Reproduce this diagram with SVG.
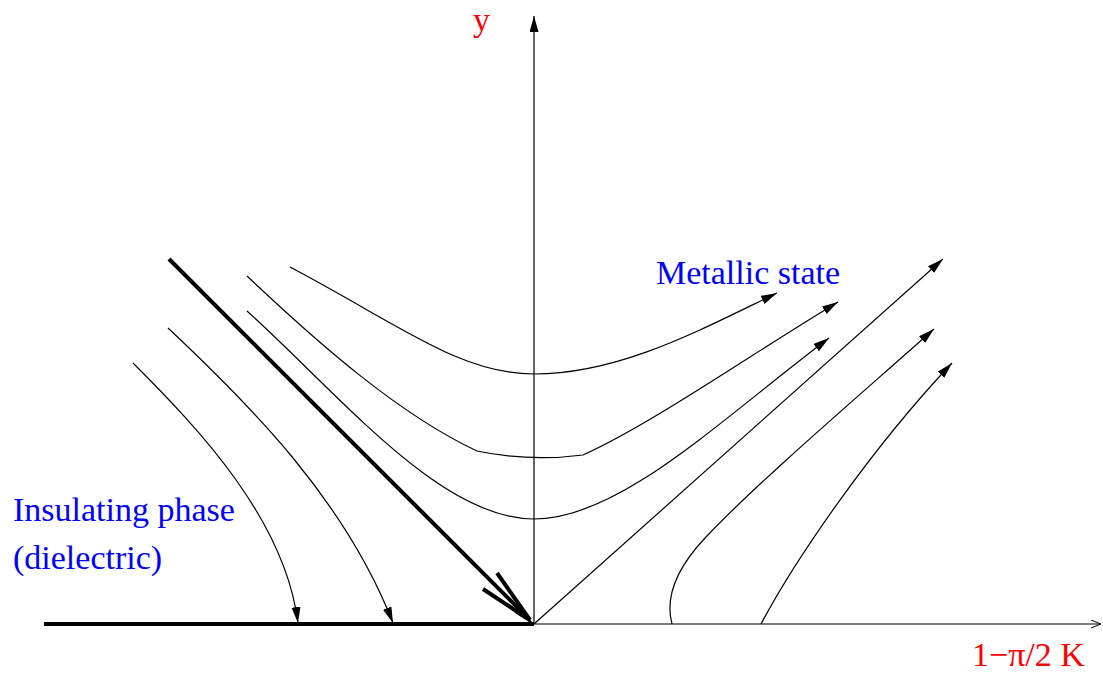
<svg xmlns="http://www.w3.org/2000/svg" width="1103" height="673" viewBox="0 0 1103 673">
<style>
.t{font-family:"Liberation Serif","Times New Roman",serif;font-size:34px}
.red{fill:#ff0000}
.blue{fill:#0000ff}
.c{fill:none;stroke:#000;stroke-width:1.2}
.thick{fill:none;stroke:#000;stroke-width:4}
</style>
<defs>
<marker id="ah" markerUnits="userSpaceOnUse" markerWidth="17" markerHeight="10" refX="16" refY="4.5" orient="auto">
<path d="M0,0 L16,4.5 L0,9 Z" fill="#000"/>
</marker>
<marker id="oh" markerUnits="userSpaceOnUse" markerWidth="12" markerHeight="10" refX="10" refY="4" orient="auto">
<path d="M0,0 L10,4 L0,8" fill="none" stroke="#000" stroke-width="1"/>
</marker>
</defs>
<rect width="1103" height="673" fill="#fff"/>
<g id="connectors">
<line id="y-axis" x1="534" y1="624" x2="534" y2="16" class="c" marker-end="url(#ah)"/>
<line id="x-axis" x1="534" y1="624" x2="1101" y2="624" class="c" marker-end="url(#oh)"/>
<line id="insulating-line" x1="44" y1="624" x2="534" y2="624" class="thick"/>
<g id="separatrix">
<line x1="169" y1="259" x2="529" y2="619" class="thick"/>
<line x1="497" y1="573" x2="530" y2="620" class="thick"/>
<line x1="483" y1="589" x2="530" y2="620" class="thick"/>
<polygon points="520,605 534,625 515,613" fill="#000"/>
</g>
<path id="flow-l1" d="M133,363 C200,430 285,520 298,623" class="c" marker-end="url(#ah)"/>
<path id="flow-l2" d="M168,328 C250,405 345,500 393,623" class="c" marker-end="url(#ah)"/>
<path id="flow-m1" d="M290,267 C400,325 460,374 534,374 C620,374 700,330 777,293" class="c" marker-end="url(#ah)"/>
<path id="flow-m2" d="M247,276 C320,345 400,415 477,451 Q530,462 583,455 C650,425 750,355 838,302" class="c" marker-end="url(#ah)"/>
<path id="flow-m3" d="M247,311 C340,395 440,519 534,519 C620,519 720,420 829,338" class="c" marker-end="url(#ah)"/>
<line id="flow-diag" x1="534" y1="624" x2="943" y2="259" class="c" marker-end="url(#ah)"/>
<path id="flow-r1" d="M672,624 C665,598 675,570 705,538 C760,480 860,395 934,329" class="c" marker-end="url(#ah)"/>
<path id="flow-r2" d="M761,624 C795,560 870,450 952,363" class="c" marker-end="url(#ah)"/>
</g>
<g id="label-y"><text x="473" y="31" class="t red">y</text></g>
<g id="label-x"><text x="972" y="666" class="t red">1−π/2 K</text></g>
<g id="label-metallic"><text x="656" y="284" class="t blue">Metallic state</text></g>
<g id="label-insulating">
<text x="13" y="521" class="t blue">Insulating phase</text>
<text x="13" y="569" class="t blue">(dielectric)</text>
</g>
</svg>
